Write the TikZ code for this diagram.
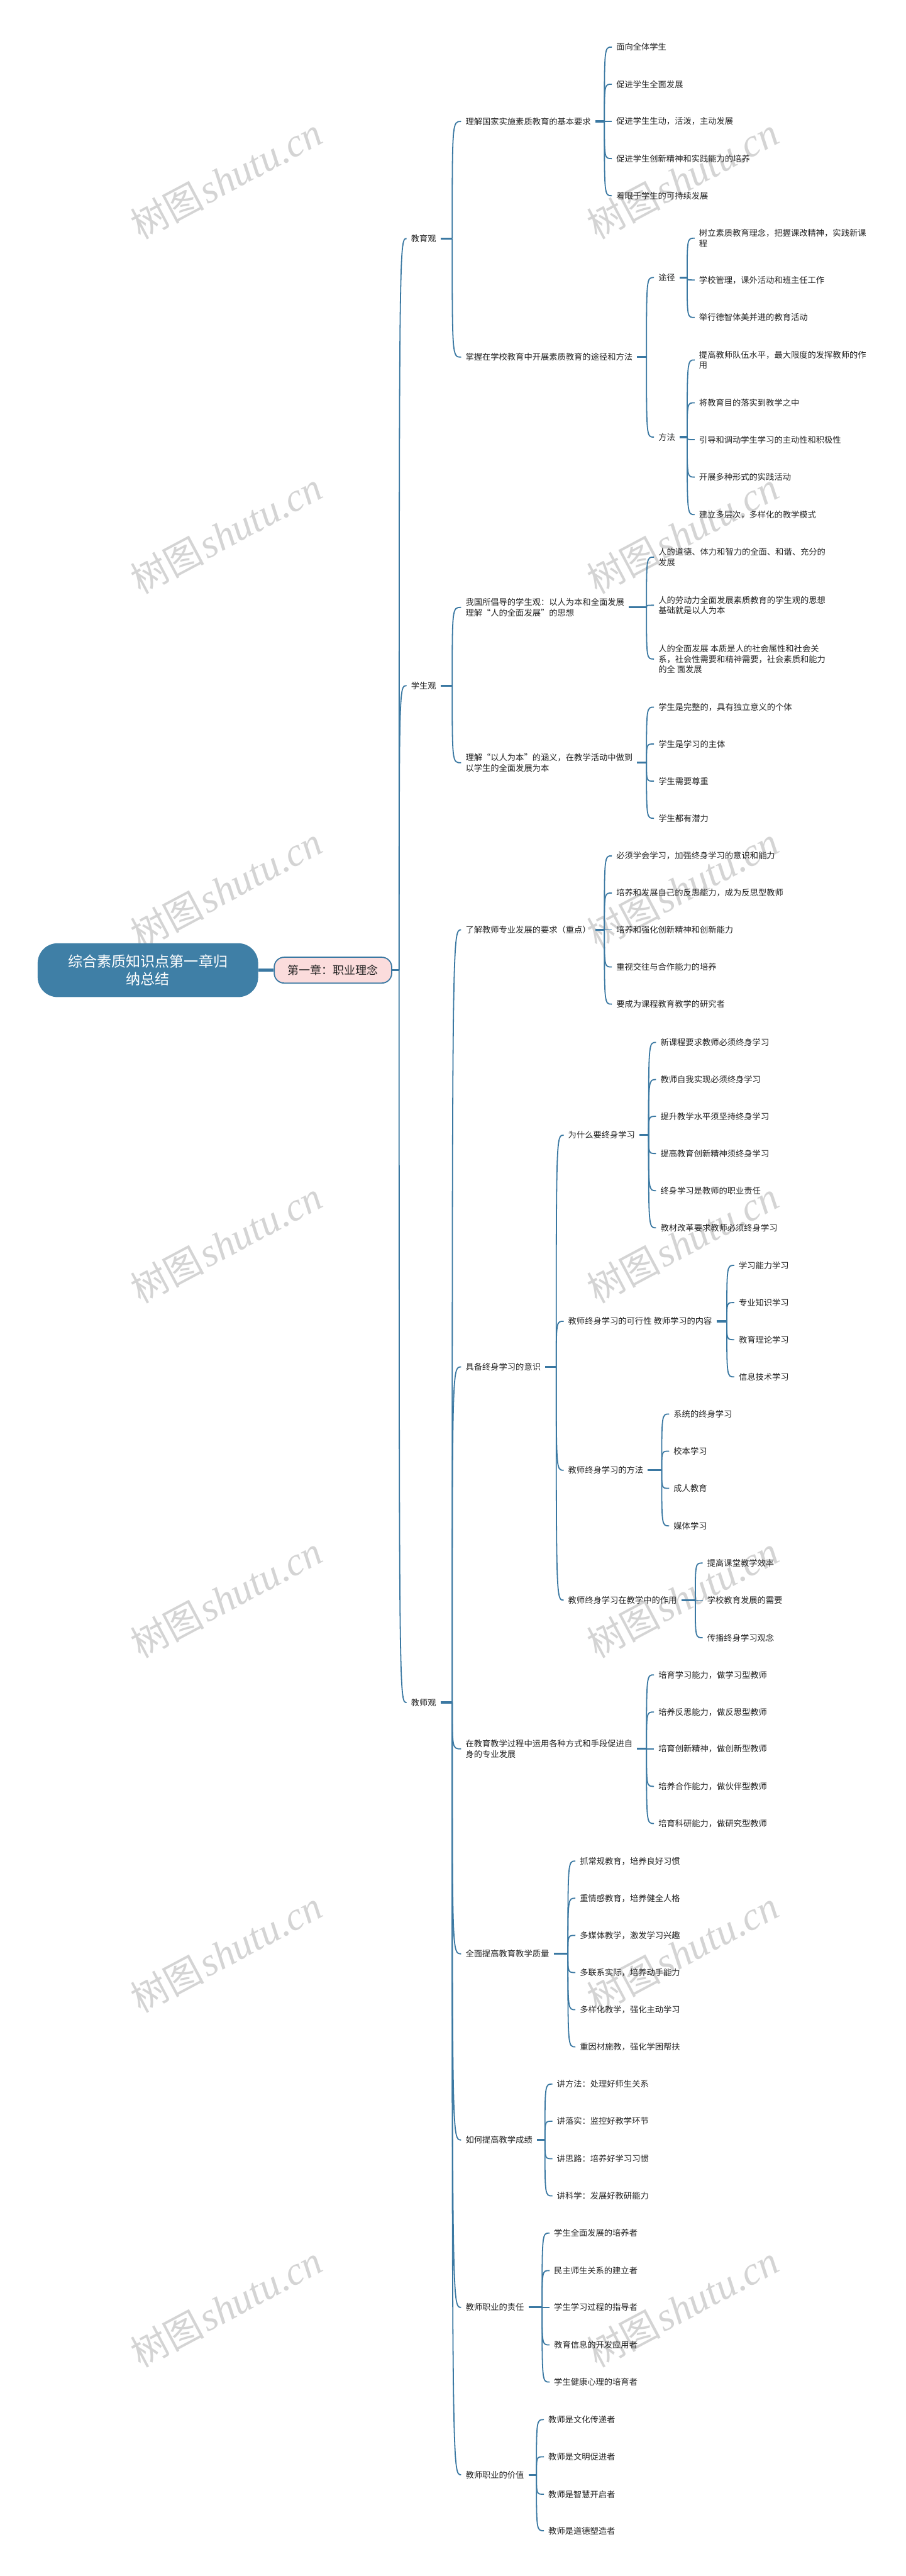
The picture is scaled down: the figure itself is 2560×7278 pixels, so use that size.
\documentclass[tikz,border=0pt]{standalone}
\usepackage{fontspec}
\setmainfont{Noto Sans CJK SC}
\newfontfamily\wmcjk{Noto Sans CJK SC}
\newfontfamily\wmlat{Liberation Serif}
\definecolor{lineblue}{HTML}{3A78A2}
\definecolor{rootblue}{HTML}{3F7FA6}
\definecolor{pinkfill}{HTML}{FBDCDC}
\definecolor{wmgray}{HTML}{D4D4D4}
\definecolor{txtcol}{HTML}{222222}
\newcommand\leafs[3]{%
  \foreach \nm/\yy/\tx in {#3} {
    \node[txt] (\nm) at (#2,\yy) {\tx};
    \draw[conn] (#1s) .. controls (#1s |- \nm.west) and (#1s |- \nm.west) .. (\nm.west);
  }}
\begin{document}
\begin{tikzpicture}[x=0.25pt,y=-0.25pt,
  txt/.style={anchor=west, inner xsep=3pt, inner ysep=0pt, align=left, font=\fontsize{5.9}{7.3}\selectfont, text=txtcol},
  conn/.style={draw=lineblue, line width=0.8pt},
  stub/.style={draw=lineblue, line width=1.4pt},
  rootbox/.style={fill=rootblue, rounded corners=14pt, minimum width=155.75pt, minimum height=38pt, text=white, align=center, font=\fontsize{10.25}{12.5}\selectfont, inner sep=0pt},
  l1box/.style={fill=pinkfill, draw=lineblue, line width=0.8pt, rounded corners=7pt, minimum width=83pt, minimum height=18.25pt, font=\fontsize{8}{9}\selectfont, inner sep=0pt, text=txtcol},
  wm/.style={rotate=28, text=wmgray, inner sep=0pt}
]
\useasboundingbox (0,0) rectangle (2560,7278);
\fill[white] (0,0) rectangle (2560,7278);

% watermarks
\foreach \k in {0,...,6} {
  \node[wm] (wmL\k) at (640,{505+1002*\k}) {{\wmcjk\fontsize{26}{28}\selectfont 树图}\,{\wmlat\itshape\fontsize{28}{30}\selectfont shutu.cn}};
  \node[wm] (wmR\k) at (1930,{505+1002*\k}) {{\wmcjk\fontsize{26}{28}\selectfont 树图}\,{\wmlat\itshape\fontsize{28}{30}\selectfont shutu.cn}};
}

% spine coordinates
\coordinate (l1s) at (1128,2741);
\coordinate (as) at (1278,674);
\coordinate (bs) at (1278,1937);
\coordinate (cs) at (1278,4810);
\coordinate (a1s) at (1708,343);
\coordinate (a2s) at (1827,1009);
\coordinate (a2as) at (1942,784);
\coordinate (a2bs) at (1942,1235);
\coordinate (b1s) at (1827,1716);
\coordinate (b2s) at (1827,2155);
\coordinate (c1s) at (1708,2627);
\coordinate (c2s) at (1572,3862);
\coordinate (c21s) at (1833,3207);
\coordinate (c22s) at (2054,3733);
\coordinate (c23s) at (1870,4154);
\coordinate (c24s) at (1965,4521);
\coordinate (c3s) at (1827,4941);
\coordinate (c4s) at (1605,5520);
\coordinate (c5s) at (1540,6046);
\coordinate (c6s) at (1532,6519);
\coordinate (c7s) at (1516,6992);

% root and chapter
\node[rootbox] (root) at (418,2741) {综合素质知识点第一章归\\纳总结};
\node[l1box] (l1) at (941,2741) {第一章：职业理念};
\draw[lineblue, line width=2pt] (root.east) -- (l1.west);
\draw[stub] (l1.east) -- (l1s);

% level 2
\leafs{l1}{1149}{a/674/教育观, b/1937/学生观, c/4810/教师观}

% level 3
\leafs{a}{1303}{a1/343/理解国家实施素质教育的基本要求, a2/1009/掌握在学校教育中开展素质教育的途径和方法}
\leafs{b}{1303}{b1/1716/{我国所倡导的学生观：以人为本和全面发展\\理解“人的全面发展”的思想}, b2/2155/{理解“以人为本”的涵义，在教学活动中做到\\以学生的全面发展为本}}
\leafs{c}{1303}{c1/2627/了解教师专业发展的要求（重点）, c2/3862/具备终身学习的意识, c3/4941/{在教育教学过程中运用各种方式和手段促进自\\身的专业发展}, c4/5520/全面提高教育教学质量, c5/6046/如何提高教学成绩, c6/6519/教师职业的责任, c7/6992/教师职业的价值}

% 教育观
\leafs{a1}{1729}{a1a/133/面向全体学生, a1b/238/促进学生全面发展, a1c/343/促进学生生动，活泼，主动发展, a1d/448/促进学生创新精神和实践能力的培养, a1e/553/着眼于学生的可持续发展}
\leafs{a2}{1848}{a2a/784/途径, a2b/1235/方法}
\leafs{a2a}{1963}{a2a1/673/{树立素质教育理念，把握课改精神，实践新课\\程}, a2a2/791/学校管理，课外活动和班主任工作, a2a3/897/举行德智体美并进的教育活动}
\leafs{a2b}{1963}{a2b1/1017/{提高教师队伍水平，最大限度的发挥教师的作\\用}, a2b2/1138/将教育目的落实到教学之中, a2b3/1242/引导和调动学生学习的主动性和积极性, a2b4/1348/开展多种形式的实践活动, a2b5/1454/建立多层次，多样化的教学模式}

% 学生观
\leafs{b1}{1848}{b1a/1574/{人的道德、体力和智力的全面、和谐、充分的\\发展}, b1b/1710/{人的劳动力全面发展素质教育的学生观的思想\\基础就是以人为本}, b1c/1862/{人的全面发展\ 本质是人的社会属性和社会关\\系，社会性需要和精神需要，社会素质和能力\\的全\ 面发展}}
\leafs{b2}{1848}{b2a/1998/学生是完整的，具有独立意义的个体, b2b/2102/学生是学习的主体, b2c/2207/学生需要尊重, b2d/2312/学生都有潜力}

% 教师观
\leafs{c1}{1729}{c1a/2418/必须学会学习，加强终身学习的意识和能力, c1b/2523/培养和发展自己的反思能力，成为反思型教师, c1c/2627/培养和强化创新精神和创新能力, c1d/2732/重视交往与合作能力的培养, c1e/2837/要成为课程教育教学的研究者}
\leafs{c2}{1593}{c21/3207/为什么要终身学习, c22/3733/教师终身学习的可行性\ 教师学习的内容, c23/4154/教师终身学习的方法, c24/4521/教师终身学习在教学中的作用}
\leafs{c21}{1854}{c21a/2945/新课程要求教师必须终身学习, c21b/3050/教师自我实现必须终身学习, c21c/3154/提升教学水平须坚持终身学习, c21d/3259/提高教育创新精神须终身学习, c21e/3364/终身学习是教师的职业责任, c21f/3469/教材改革要求教师必须终身学习}
\leafs{c22}{2075}{c22a/3575/学习能力学习, c22b/3680/专业知识学习, c22c/3785/教育理论学习, c22d/3890/信息技术学习}
\leafs{c23}{1891}{c23a/3995/系统的终身学习, c23b/4100/校本学习, c23c/4205/成人教育, c23d/4311/媒体学习}
\leafs{c24}{1986}{c24a/4416/提高课堂教学效率, c24b/4521/学校教育发展的需要, c24c/4627/传播终身学习观念}
\leafs{c3}{1848}{c3a/4732/培育学习能力，做学习型教师, c3b/4837/培养反思能力，做反思型教师, c3c/4941/培育创新精神，做创新型教师, c3d/5047/培养合作能力，做伙伴型教师, c3e/5152/培育科研能力，做研究型教师}
\leafs{c4}{1626}{c4a/5258/抓常规教育，培养良好习惯, c4b/5363/重情感教育，培养健全人格, c4c/5468/多媒体教学，激发学习兴趣, c4d/5573/多联系实际，培养动手能力, c4e/5678/多样化教学，强化主动学习, c4f/5783/重因材施教，强化学困帮扶}
\leafs{c5}{1561}{c5a/5888/讲方法：处理好师生关系, c5b/5993/讲落实：监控好教学环节, c5c/6099/讲思路：培养好学习习惯, c5d/6204/讲科学：发展好教研能力}
\leafs{c6}{1553}{c6a/6309/学生全面发展的培养者, c6b/6415/民主师生关系的建立者, c6c/6519/学生学习过程的指导者, c6d/6625/教育信息的开发应用者, c6e/6730/学生健康心理的培育者}
\leafs{c7}{1537}{c7a/6836/教师是文化传递者, c7b/6941/教师是文明促进者, c7c/7047/教师是智慧开启者, c7d/7150/教师是道德塑造者}

% stubs
\foreach \p in {a,b,c,a1,a2,a2a,a2b,b1,b2,c1,c2,c21,c22,c23,c24,c3,c4,c5,c6,c7} {
  \draw[stub] (\p.east) -- (\p s);
}
\end{tikzpicture}
\end{document}
